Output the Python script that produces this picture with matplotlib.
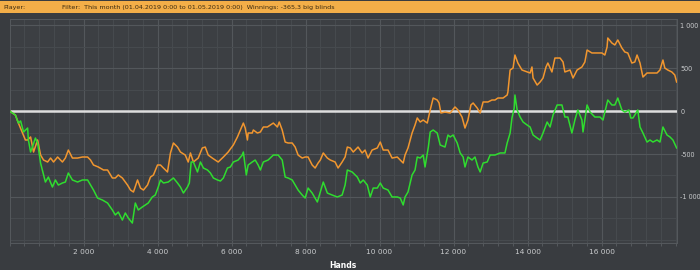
import numpy as np
import matplotlib
matplotlib.use("Agg")
import matplotlib.pyplot as plt
from matplotlib.ticker import MultipleLocator, FuncFormatter

plt.rcParams['axes.unicode_minus'] = False

# hands played / cumulative big blinds
orange_hands = [0, 160, 240, 350, 430, 490, 570, 650, 760, 840, 920, 1030, 1110, 1190, 1300,
                1430, 1510, 1590, 1700, 1840, 1970, 2110, 2190, 2270, 2400, 2540, 2650, 2780,
                2860, 2940, 3050, 3190, 3270, 3350, 3460, 3540, 3620, 3730, 3810, 3890, 4000,
                4080, 4160, 4270, 4350, 4430, 4540, 4620, 4750, 4830, 4890, 4970, 5100, 5210,
                5290, 5370, 5480, 5560, 5640, 5780, 5910, 6050, 6160, 6240, 6320, 6370, 6430,
                6450, 6560, 6590, 6700, 6780, 6860, 6970, 7050, 7130, 7240, 7290, 7370, 7450,
                7530, 7640, 7720, 7800, 7910, 7990, 8070, 8180, 8260, 8340, 8400, 8480, 8590,
                8670, 8800, 8880, 8990, 9070, 9130, 9210, 9290, 9420, 9530, 9610, 9690, 9800,
                9940, 10020, 10100, 10230, 10340, 10480, 10560, 10640, 10690, 10770, 10880,
                10960, 11020, 11100, 11180, 11290, 11370, 11450, 11560, 11610, 11660, 11770,
                11910, 12040, 12120, 12230, 12310, 12390, 12470, 12530, 12640, 12720, 12800,
                12930, 13040, 13120, 13200, 13340, 13450, 13470, 13530, 13610, 13660, 13740,
                13850, 13990, 14070, 14120, 14150, 14260, 14340, 14420, 14500, 14550, 14660,
                14740, 14880, 14960, 15010, 15150, 15230, 15340, 15470, 15550, 15610, 15740,
                15880, 16010, 16090, 16150, 16170, 16280, 16360, 16440, 16550, 16630, 16710,
                16820, 16900, 16960, 17040, 17120, 17230, 17310, 17390, 17500, 17580, 17660,
                17710, 17790, 17900, 17980, 18030]
orange_bb = [0, -47, -140, -256, -337, -337, -302, -477, -337, -512, -570, -593, -547, -593, -535,
             -593, -547, -454, -547, -547, -535, -535, -570, -628, -651, -686, -686, -779,
             -779, -744, -779, -861, -919, -942, -802, -896, -919, -861, -768, -744, -628,
             -628, -663, -709, -488, -372, -419, -477, -512, -593, -488, -593, -547, -430,
             -419, -512, -547, -570, -593, -535, -477, -395, -302, -221, -140, -198, -337,
             -256, -256, -221, -256, -244, -186, -186, -163, -140, -186, -128, -221, -361,
             -372, -372, -419, -512, -547, -535, -535, -628, -663, -605, -570, -488, -547,
             -570, -593, -663, -593, -535, -419, -430, -477, -419, -488, -454, -547, -454,
             -430, -361, -454, -454, -547, -535, -570, -605, -512, -430, -256,
             -163, -81, -128, -105, -140, 12, 151, 128, 93, -23, -12,
             -23, 47, 12, -70, -198, -105, 70, 93, 35, -23, 105,
             105, 128, 128, 151, 151, 186, 221, 477, 500, 651, 558,
             477, 454, 442, 512, 384, 302, 337, 384, 512, 558, 454,
             616, 616, 570, 454, 477, 384, 477, 512, 570, 709, 675,
             675, 675, 651, 744, 849, 791, 768, 826, 733, 686, 675,
             558, 570, 651, 558, 395, 442, 442, 442, 442, 477, 593,
             500, 477, 454, 419, 337]

green_hands = [0, 160, 240, 300, 380, 490, 510, 570, 620, 700, 760, 840, 920, 970, 1050, 1160,
               1240, 1320, 1430, 1510, 1590, 1700, 1840, 1970, 2110, 2190, 2270, 2380, 2510,
               2650, 2780, 2860, 2940, 3050, 3130, 3210, 3320, 3400, 3480, 3590, 3670, 3750,
               3860, 3940, 4020, 4080, 4160, 4290, 4430, 4540, 4620, 4700, 4810, 4860, 4910,
               4970, 5080, 5160, 5240, 5350, 5430, 5510, 5620, 5700, 5780, 5890, 5970, 6050,
               6180, 6290, 6320, 6400, 6450, 6560, 6640, 6720, 6780, 6860, 6990, 7130, 7260,
               7370, 7450, 7530, 7640, 7720, 7800, 7910, 7990, 8070, 8180, 8320, 8400, 8480,
               8590, 8720, 8860, 8990, 9070, 9130, 9260, 9400, 9480, 9560, 9670, 9750, 9830,
               9940, 10020, 10100, 10230, 10340, 10480, 10560, 10640, 10690, 10770, 10880,
               10960, 11020, 11100, 11180, 11230, 11320, 11370, 11450, 11560, 11640, 11770,
               11850, 11910, 11990, 12100, 12180, 12260, 12310, 12390, 12500, 12580, 12660,
               12720, 12800, 12910, 12990, 13120, 13260, 13390, 13450, 13530, 13580, 13640,
               13660, 13720, 13800, 13880, 13990, 14070, 14150, 14260, 14340, 14420, 14530,
               14610, 14690, 14800, 14880, 14930, 15010, 15090, 15200, 15280, 15360, 15470,
               15500, 15610, 15690, 15820, 15960, 16040, 16090, 16170, 16280, 16360, 16440,
               16550, 16630, 16740, 16790, 16850, 16980, 17040, 17120, 17230, 17310, 17390,
               17500, 17580, 17660, 17770, 17850, 17930, 18030]
green_bb = [0, -47, -140, -116, -244, -198, -337, -477, -419, -314, -372, -605, -744, -826, -768, -884,
            -802, -861, -837, -826, -721, -802, -826, -802, -802, -861, -919, -1012, -1035,
            -1070, -1151, -1209, -1175, -1268, -1186, -1244, -1303, -1070, -1151, -1116, -1093, -1070,
            -1000, -977, -884, -802, -837, -826, -779, -837, -884, -954, -884, -837, -593,
            -593, -709, -593, -663, -686, -721, -779, -802, -814, -779, -663, -651, -593,
            -570, -512, -477, -744, -628, -593, -570, -628, -686, -593, -570, -512, -512,
            -570, -768, -779, -802, -861, -919, -977, -1012, -896, -954, -1058, -942, -826,
            -954, -977, -1000, -977, -861, -686, -709, -768, -837, -802, -861, -1000, -896,
            -896, -837, -896, -919, -1000, -1000, -1012, -1093, -1000, -942, -744,
            -686, -535, -547, -512, -651, -419, -244, -221, -256, -395, -419,
            -279, -302, -279, -372, -488, -535, -651, -535, -570, -535, -651,
            -709, -605, -593, -512, -512, -488, -488, -372, -256, -81, 35,
            186, 12, -70, -128, -163, -186, -279, -314, -337, -256, -128,
            -186, -47, 70, 70, 70, -70, -70, -256, -105, 12, -105,
            -244, 70, -12, -70, -70, -105, -12, 128, 70, 70, 151,
            12, -12, 12, -81, -81, 12, -186, -256, -361, -337, -361,
            -337, -361, -186, -279, -302, -337, -430]

x_ticks = [2000, 4000, 6000, 8000, 10000, 12000, 14000, 16000]
y_ticks = [-1000, -500, 0, 500, 1000]

header_player = "Player:"
header_filter = "Filter:  This month (01.04.2019 0:00 to 01.05.2019 0:00)  Winnings: -365,3 big blinds"

bg = "#393c40"
plot_bg = "#3c3f43"
txt = "#c9cbcd"

fig = plt.figure(figsize=(7, 2.7), dpi=100, facecolor=bg)

# orange header strip
fig.patches.append(plt.Rectangle((0, 1 - 13 / 270), 1, 11.5 / 270, transform=fig.transFigure,
                                 facecolor="#f3ae48", edgecolor="none", zorder=0))
fig.text(3 / 700, 1 - 7.5 / 270, header_player, fontsize=4.6, color="#3a2a10", va="center")
fig.text(62 / 700, 1 - 7.5 / 270, header_filter, fontsize=4.6, color="#3a2a10", va="center")

ax = fig.add_axes([9.5 / 700, 27 / 270, 667.5 / 700, 224 / 270])
ax.set_facecolor(plot_bg)

ax.plot(orange_hands, orange_bb, color="#f1962f", lw=1.1, zorder=3)
ax.plot(green_hands, green_bb, color="#2fdc2f", lw=1.1, zorder=3)
ax.axhline(0, color="#dedede", lw=1.8, zorder=2)

ax.set_xlim(0, 18040)
ax.set_ylim(-1535, 1070)

ax.xaxis.set_major_locator(MultipleLocator(2000))
ax.xaxis.set_minor_locator(MultipleLocator(400))
ax.yaxis.set_major_locator(MultipleLocator(500))
ax.yaxis.set_minor_locator(MultipleLocator(250))
ax.set_xticks(x_ticks)
ax.set_yticks(y_ticks)

fmt = FuncFormatter(lambda v, p: "{:,.0f}".format(v).replace(",", " "))
ax.xaxis.set_major_formatter(fmt)
ax.yaxis.set_major_formatter(fmt)

ax.grid(which="major", color="#53575b", lw=0.8)
ax.grid(which="minor", color="#474b4f", lw=0.7)
ax.set_axisbelow(True)

ax.yaxis.tick_right()
ax.tick_params(axis="both", which="both", colors="#5a5e62", labelcolor=txt, labelsize=5.3,
               length=2.5, width=0.6, pad=2)
ax.tick_params(axis="y", which="both", length=0, pad=2.5, labelsize=4.7)

for s in ax.spines.values():
    s.set_color("#55595d")
    s.set_linewidth(0.7)

ax.set_xlabel("Hands", fontsize=5.5, color="white", fontweight="bold", labelpad=4)

fig.savefig("out.png", dpi=100, facecolor=bg)
